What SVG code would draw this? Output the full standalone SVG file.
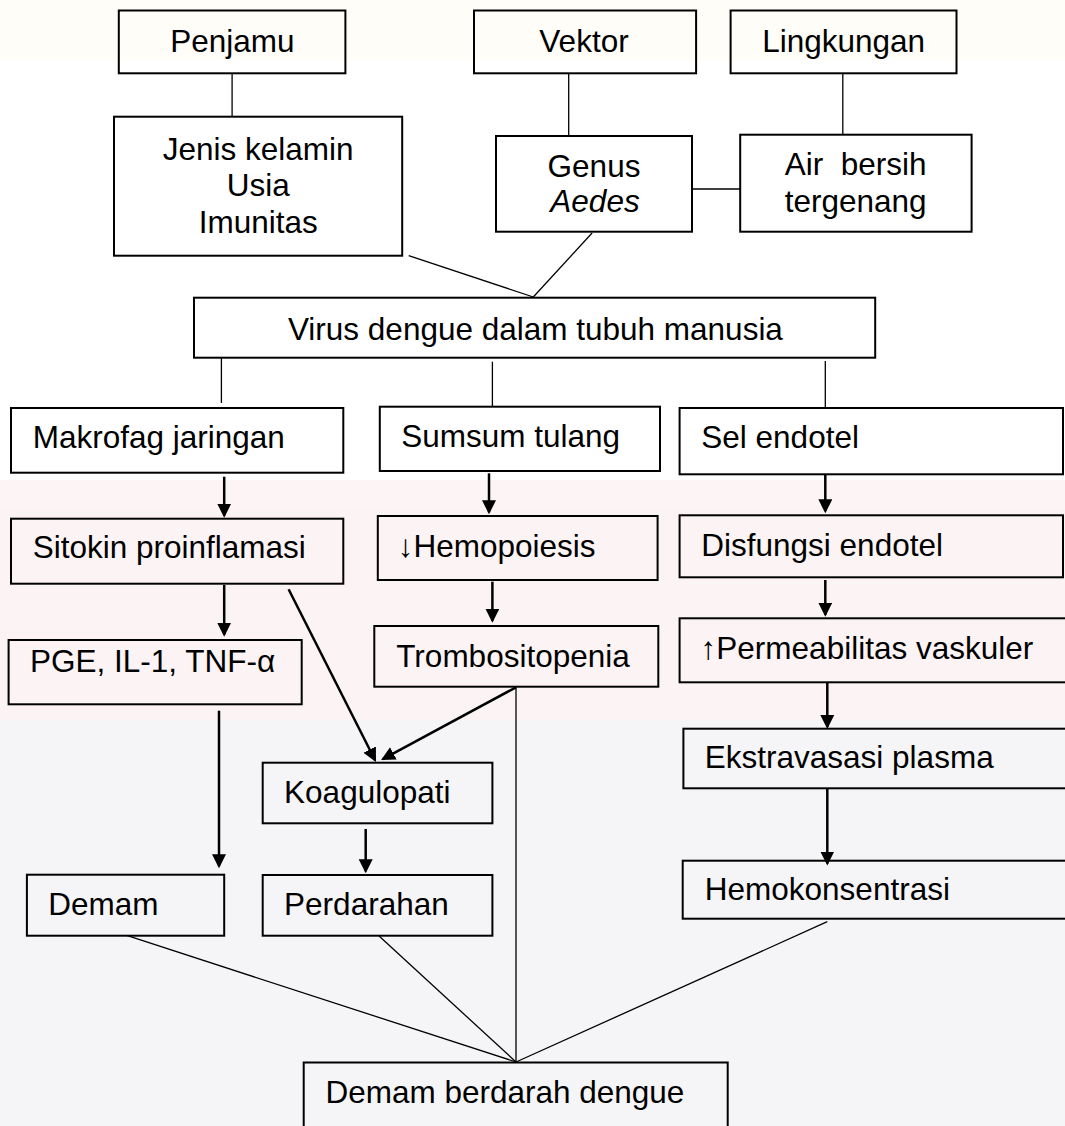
<svg xmlns="http://www.w3.org/2000/svg" width="1065" height="1126" viewBox="0 0 1065 1126">
<style>
  .box { fill: none; stroke: #000; stroke-width: 2; }
  .ln { stroke: #000; stroke-width: 1.3; fill: none; }
  .ar { stroke: #000; stroke-width: 2.5; fill: none; marker-end: url(#ah); }
  text { font-family: "Liberation Sans", Arial, sans-serif; font-size: 31.5px; fill: #000; }
  .c { text-anchor: middle; }
</style>
<defs>
  <marker id="ah" markerUnits="userSpaceOnUse" markerWidth="15" markerHeight="15" refX="12" refY="7" orient="auto">
    <path d="M0,0 L14,7 L0,14 z" fill="#000"/>
  </marker>
</defs>
<rect x="0" y="0" width="1065" height="1126" fill="#ffffff"/>
<g id="watermark" opacity="0.6">
  <rect x="0" y="0" width="1065" height="60" fill="#fdfbf3"/>
  <rect x="0" y="480" width="1065" height="240" fill="#fbeeee"/>
  <rect x="0" y="720" width="1065" height="406" fill="#efeff2"/>
</g>

<g id="connectors">
  <line class="ln" x1="232.1" y1="73.3" x2="232.1" y2="116.7"/>
  <line class="ln" x1="568.7" y1="73.3" x2="568.7" y2="136"/>
  <line class="ln" x1="842.8" y1="73.3" x2="842.8" y2="134.7"/>
  <line class="ln" x1="692" y1="189" x2="740.2" y2="189"/>
  <line class="ln" x1="408.7" y1="255.7" x2="533.3" y2="297"/>
  <line class="ln" x1="592.1" y1="233" x2="533.3" y2="297"/>
  <line class="ln" x1="221.4" y1="358" x2="221.4" y2="403"/>
  <line class="ln" x1="492.4" y1="361.7" x2="492.4" y2="406.7"/>
  <line class="ln" x1="825.3" y1="361" x2="825.3" y2="407.7"/>
  <line class="ln" x1="516" y1="687.3" x2="516" y2="1062"/>
  <line class="ln" x1="127.4" y1="935.7" x2="516" y2="1062"/>
  <line class="ln" x1="378.8" y1="935.7" x2="516" y2="1062"/>
  <line class="ln" x1="827.3" y1="921.7" x2="516" y2="1062"/>

  <line class="ar" x1="224.2" y1="476.7" x2="224.2" y2="515.7"/>
  <line class="ar" x1="224.2" y1="585" x2="224.2" y2="634.7"/>
  <line class="ar" x1="219" y1="710.7" x2="219" y2="866.3"/>
  <line class="ar" x1="489" y1="473.3" x2="489" y2="512.3"/>
  <line class="ar" x1="492.4" y1="581.7" x2="492.4" y2="620.7"/>
  <line class="ar" x1="825.3" y1="474.3" x2="825.3" y2="511.3"/>
  <line class="ar" x1="825.3" y1="580" x2="825.3" y2="614.7"/>
  <line class="ar" x1="827.3" y1="682.3" x2="827.3" y2="727"/>
  <line class="ar" x1="827.3" y1="788.3" x2="827.3" y2="863.5"/>
  <line class="ar" x1="365.7" y1="829" x2="365.7" y2="871.3"/>
  <line class="ar" x1="288.6" y1="589.3" x2="375.1" y2="760.2"/>
  <line class="ar" x1="516" y1="687.3" x2="382.8" y2="759.1"/>
</g>

<g id="penjamu"><rect class="box" x="118.8" y="10.5" width="226.6" height="62.8"/><text class="c" x="232.3" y="52">Penjamu</text></g>
<g id="vektor"><rect class="box" x="474" y="10.5" width="222.1" height="62.8"/><text class="c" x="584" y="52">Vektor</text></g>
<g id="lingkungan"><rect class="box" x="730.6" y="10.5" width="225.9" height="62.8"/><text class="c" x="843.6" y="52">Lingkungan</text></g>

<g id="jenis"><rect class="box" x="114" y="116.7" width="288.2" height="139"/>
  <text class="c" x="258.2" y="160">Jenis kelamin</text>
  <text class="c" x="258.2" y="196">Usia</text>
  <text class="c" x="258.2" y="233">Imunitas</text></g>
<g id="genus"><rect class="box" x="496" y="136" width="196" height="95.7"/>
  <text class="c" x="594" y="176.7">Genus</text>
  <text class="c" x="595" y="212.3" font-style="italic">Aedes</text></g>
<g id="air"><rect class="box" x="740.2" y="134.7" width="231.4" height="97"/>
  <text class="c" x="855.6" y="175" xml:space="preserve">Air  bersih</text>
  <text class="c" x="855.6" y="211.7">tergenang</text></g>

<g id="virus"><rect class="box" x="194" y="297.7" width="681.2" height="60"/><text class="c" x="535.4" y="340">Virus dengue dalam tubuh manusia</text></g>

<g id="makrofag"><rect class="box" x="11" y="408" width="332.3" height="64.7"/><text x="32.7" y="448.3">Makrofag jaringan</text></g>
<g id="sumsum"><rect class="box" x="379.8" y="406.7" width="280.2" height="64.3"/><text x="401.2" y="447">Sumsum tulang</text></g>
<g id="sel"><rect class="box" x="679.6" y="408" width="383.4" height="66.3"/><text x="701.3" y="448.3">Sel endotel</text></g>

<g id="sitokin"><rect class="box" x="11" y="518.7" width="332.3" height="65"/><text x="32.7" y="558.3">Sitokin proinflamasi</text></g>
<g id="hemopoiesis"><rect class="box" x="377.8" y="516" width="279.8" height="64"/><text x="397.7" y="556.7">↓Hemopoiesis</text></g>
<g id="disfungsi"><rect class="box" x="679.6" y="515.3" width="383.4" height="62"/><text x="701.3" y="556">Disfungsi endotel</text></g>

<g id="pge"><rect class="box" x="8.6" y="640" width="293.1" height="64.3"/><text x="30" y="671.7">PGE, IL-1, TNF-α</text></g>
<g id="trombositopenia"><rect class="box" x="374.3" y="626" width="284" height="60.7"/><text x="396.3" y="666.7">Trombositopenia</text></g>
<g id="permeabilitas"><rect class="box" x="679.6" y="618.3" width="400" height="64"/><text x="700.6" y="659">↑Permeabilitas vaskuler</text></g>

<g id="ekstravasasi"><rect class="box" x="683.4" y="728.7" width="400" height="59.6"/><text x="704.8" y="768.3">Ekstravasasi plasma</text></g>
<g id="koagulopati"><rect class="box" x="262.7" y="762.7" width="229.7" height="60.6"/><text x="284.1" y="802.7">Koagulopati</text></g>

<g id="demam"><rect class="box" x="26.9" y="874.7" width="197.3" height="61"/><text x="48.2" y="915">Demam</text></g>
<g id="perdarahan"><rect class="box" x="262.7" y="875" width="229.7" height="60.7"/><text x="284.1" y="915">Perdarahan</text></g>
<g id="hemokonsentrasi"><rect class="box" x="682.7" y="860.7" width="400" height="58"/><text x="704.8" y="900">Hemokonsentrasi</text></g>

<g id="dbd"><rect class="box" x="303.7" y="1062.5" width="424" height="80"/><text x="325.4" y="1103.3">Demam berdarah dengue</text></g>
</svg>
